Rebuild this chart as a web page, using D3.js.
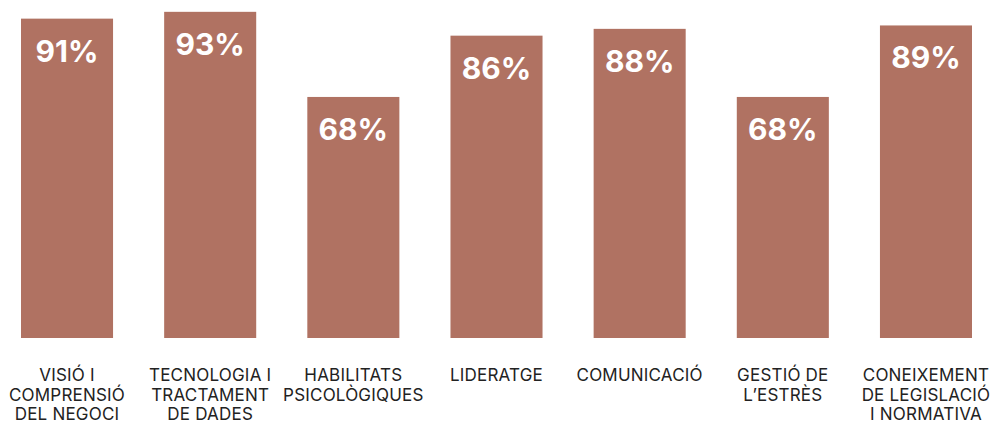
<!DOCTYPE html>
<html><head><meta charset="utf-8">
<script src="https://cdn.jsdelivr.net/npm/d3@7"></script>
<style>body{margin:0;background:#fff;}svg{display:block;}</style>
</head><body>
<svg id="c" width="994" height="425"></svg>
<script>
const categories = [
  ["VISIÓ I","COMPRENSIÓ","DEL NEGOCI"],
  ["TECNOLOGIA I","TRACTAMENT","DE DADES"],
  ["HABILITATS","PSICOLÒGIQUES"],
  ["LIDERATGE"],
  ["COMUNICACIÓ"],
  ["GESTIÓ DE","L’ESTRÈS"],
  ["CONEIXEMENT","DE LEGISLACIÓ","I NORMATIVA"]
];
const values = [91, 93, 68, 86, 88, 68, 89];
const valueLabels = ["91%","93%","68%","86%","88%","68%","89%"];

const svg = d3.select("#c");
const idx = d3.range(values.length);
const x = d3.scaleBand().domain(idx).range([21, 972]).paddingInner(0.357).paddingOuter(0);
const y = d3.scaleLinear().domain([-2.8, 100]).range([338, -12]);
const base = y.domain()[0];

svg.selectAll("rect.bar").data(idx).enter().append("rect")
  .attr("class","bar")
  .attr("x", i => x(i)).attr("width", x.bandwidth())
  .attr("y", i => y(values[i])).attr("height", i => y(base) - y(values[i]))
  .attr("fill", "#b07262");

svg.selectAll("text.val").data(idx).enter().append("text")
  .attr("class","val")
  .attr("x", i => x(i) + x.bandwidth()/2)
  .attr("y", i => y(values[i]) + 43)
  .attr("text-anchor","middle")
  .attr("fill","#fff")
  .style("font-family","Inter, 'Open Sans', sans-serif")
  .style("font-weight","700")
  .style("font-size","30px")
  .text(i => valueLabels[i]);

const lab = svg.selectAll("text.cat").data(idx).enter().append("text")
  .attr("class","cat")
  .attr("text-anchor","middle")
  .attr("fill","#222")
  .style("font-family","Inter, 'Open Sans', sans-serif")
  .style("font-size","17px")
  .style("letter-spacing","0.2px");
lab.each(function(i){
  const t = d3.select(this);
  categories[i].forEach((line, k) => {
    t.append("tspan").attr("x", x(i) + x.bandwidth()/2).attr("y", 381 + k*19.5).text(line);
  });
});
</script>
</body></html>
